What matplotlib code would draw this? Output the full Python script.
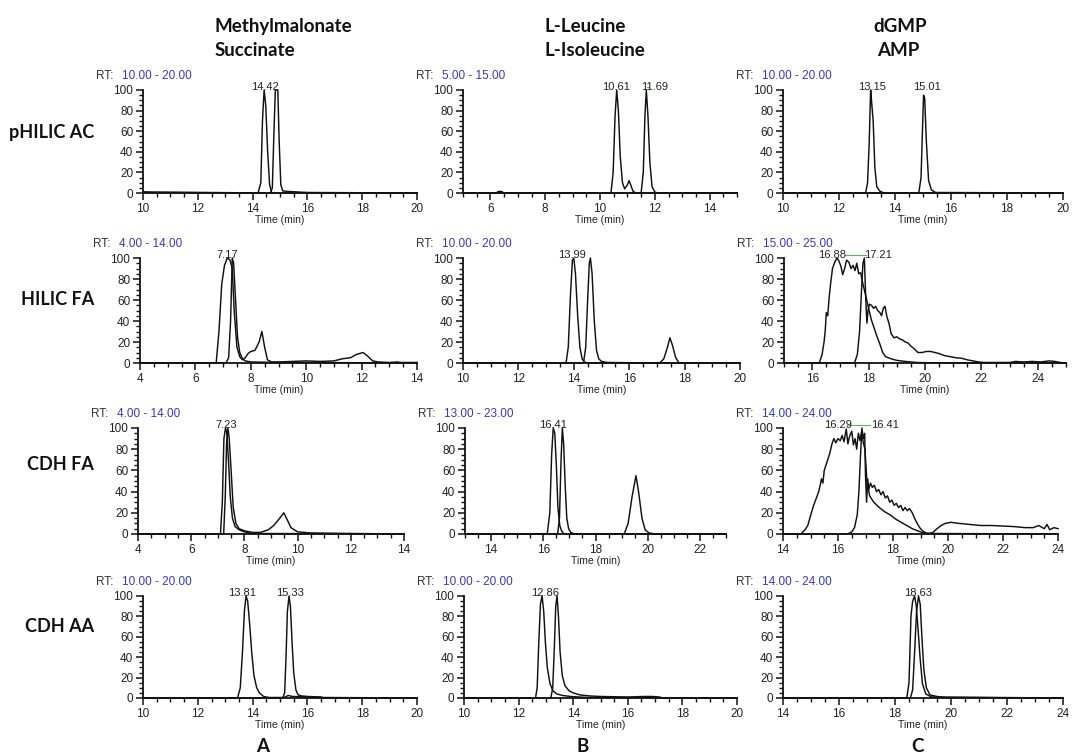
import matplotlib
matplotlib.use('Agg')
import matplotlib.pyplot as plt
from matplotlib.ticker import MultipleLocator

# ---------------- data ----------------
row_names = ["pHILIC AC", "HILIC FA", "CDH FA", "CDH AA"]
col_titles = [("Methylmalonate", "Succinate"), ("L-Leucine", "L-Isoleucine"), ("dGMP", "AMP")]
col_letters = ["A", "B", "C"]

# RT windows (min)
rt_a1 = (10, 20); rt_b1 = (5, 15);  rt_c1 = (10, 20)
rt_a2 = (4, 14);  rt_b2 = (10, 20); rt_c2 = (15, 25)
rt_a3 = (4, 14);  rt_b3 = (13, 23); rt_c3 = (14, 24)
rt_a4 = (10, 20); rt_b4 = (10, 20); rt_c4 = (14, 24)

# pHILIC AC
a1_t1 = [10, 10.3, 14.2, 14.3, 14.36, 14.42, 14.48, 14.55, 14.62, 14.7, 20]
a1_y1 = [1, 0.5, 0, 10, 70, 100, 85, 40, 8, 0, 0]
a1_t2 = [10, 14.65, 14.72, 14.78, 14.83, 14.92, 14.97, 15.03, 15.1, 15.3, 16, 20]
a1_y2 = [1, 0, 5, 60, 100, 100, 50, 8, 2, 1.5, 0.5, 0]

b1_t1 = [5, 6.2, 6.3, 6.4, 6.5, 10.4, 10.48, 10.55, 10.61, 10.67, 10.74, 10.82, 10.9, 11.0, 11.06, 11.12, 11.2, 11.3, 15]
b1_y1 = [0, 0, 1.5, 1.5, 0, 0, 20, 75, 100, 80, 35, 10, 4, 8, 12, 8, 2, 0, 0]
b1_t2 = [5, 11.5, 11.58, 11.64, 11.69, 11.75, 11.82, 11.9, 12.0, 12.1, 15]
b1_y2 = [0, 0, 20, 75, 100, 75, 30, 6, 1, 0, 0]

c1_t1 = [10, 12.95, 13.02, 13.08, 13.13, 13.16, 13.22, 13.28, 13.35, 13.45, 13.6, 20]
c1_y1 = [0, 0, 10, 50, 100, 90, 70, 25, 6, 2, 0, 0]
c1_t2 = [10, 14.85, 14.93, 14.98, 15.02, 15.06, 15.12, 15.2, 15.3, 15.45, 20]
c1_y2 = [0, 0, 15, 60, 95, 92, 50, 12, 3, 0.5, 0]

# HILIC FA
a2_t1 = [4, 6.75, 6.85, 6.95, 7.05, 7.15, 7.25, 7.33, 7.4, 7.5, 7.6, 7.7, 7.8, 7.9, 8.0, 8.15, 8.3, 8.4, 8.5,
         8.6, 8.75, 9.0, 9.5, 10, 10.5, 11, 11.3, 11.6, 11.8, 12.05, 12.2, 12.4, 12.6, 13, 13.3, 13.4, 14]
a2_y1 = [0, 0, 30, 75, 93, 100, 98, 90, 50, 15, 6, 3, 5, 9, 11, 12, 20, 30, 15,
         3, 1, 1, 1.5, 2, 1.5, 2, 4, 5, 8, 10, 7, 2, 1, 0.5, 1, 0.5, 0.5]
a2_t2 = [4, 7.1, 7.2, 7.27, 7.33, 7.38, 7.45, 7.52, 7.6, 7.7, 7.8, 8.0, 9, 10, 14]
a2_y2 = [0, 0, 5, 40, 100, 95, 60, 25, 10, 4, 2, 1, 0.5, 0.5, 0]

b2_t1 = [10, 13.72, 13.8, 13.88, 13.95, 14.0, 14.06, 14.14, 14.22, 14.3, 14.38, 14.5, 20]
b2_y1 = [0, 0, 15, 65, 98, 100, 85, 45, 15, 4, 1, 0, 0]
b2_t2 = [10, 14.35, 14.43, 14.5, 14.56, 14.6, 14.66, 14.74, 14.82, 14.9, 15.0, 15.2,
         17.1, 17.25, 17.38, 17.47, 17.56, 17.68, 17.8, 20]
b2_y2 = [0, 0, 15, 60, 95, 100, 85, 40, 12, 4, 1.5, 0.5,
         0, 4, 15, 24, 17, 5, 0, 0]

c2_t1 = [15, 16.25, 16.35, 16.42, 16.46, 16.5, 16.55, 16.6, 16.65, 16.72, 16.8, 16.88, 16.95, 17.02, 17.08,
         17.15, 17.22, 17.3, 17.38, 17.45, 17.52, 17.58, 17.65, 17.72, 17.8, 17.9, 18.0, 18.1, 18.2, 18.3,
         18.4, 18.5, 18.6, 18.8, 19.0, 19.3, 19.7, 20.5, 25]
c2_y1 = [0, 0, 8, 20, 30, 48, 45, 62, 75, 90, 96, 100, 97, 92, 84,
         90, 98, 96, 90, 93, 88, 95, 85, 86, 75, 64, 52, 41, 33, 25,
         18, 10, 6, 4, 2.5, 1.5, 0.5, 0, 0]
c2_t2 = [15, 17.5, 17.6, 17.68, 17.75, 17.8, 17.85, 17.9, 17.94, 17.98, 18.03, 18.1, 18.18, 18.25, 18.32,
         18.4, 18.46, 18.52, 18.58, 18.65, 18.72, 18.8, 18.9, 19.0, 19.1, 19.2, 19.3, 19.4, 19.5, 19.6,
         19.75, 19.9, 20.05, 20.2, 20.35, 20.5, 20.7, 20.9, 21.1, 21.3, 21.5, 21.7, 21.9, 22.1,
         23.0, 23.2, 23.5, 23.8, 24.1, 24.4, 24.6, 24.8, 25]
c2_y2 = [0, 0, 8, 30, 70, 95, 100, 60, 38, 50, 56, 55, 52, 54, 50,
         48, 45, 52, 54, 44, 38, 28, 24, 25, 23, 22, 20, 19, 16, 14,
         10, 10, 11, 11, 10, 9, 7, 6, 5, 4.5, 3, 2, 1, 0.5,
         0.5, 1.5, 1, 1.5, 1, 2, 1.5, 0.5, 0]

# CDH FA
a3_t1 = [4, 7.1, 7.17, 7.23, 7.29, 7.34, 7.4, 7.47, 7.55, 7.65, 7.8, 8.0, 8.3, 14]
a3_y1 = [0, 0, 30, 90, 100, 95, 70, 35, 15, 7, 4, 2, 0.5, 0]
a3_t2 = [4, 7.22, 7.28, 7.33, 7.38, 7.43, 7.5, 7.58, 7.68, 7.8, 8.0, 8.3, 8.6, 8.9, 9.1, 9.3, 9.48,
         9.6, 9.75, 10.0, 10.5, 12, 14]
a3_y2 = [0, 0, 35, 85, 100, 90, 60, 25, 10, 5, 3, 1.5, 1.5, 4, 8, 14, 20,
         14, 6, 2, 1, 0.5, 0]

b3_t1 = [13, 16.15, 16.25, 16.32, 16.38, 16.44, 16.5, 16.56, 16.63, 16.7, 16.8, 23]
b3_y1 = [0, 0, 20, 75, 100, 95, 65, 25, 8, 3, 0, 0]
b3_t2 = [13, 16.55, 16.62, 16.68, 16.73, 16.78, 16.84, 16.9, 16.97, 17.05, 17.2,
         19.1, 19.25, 19.4, 19.55, 19.65, 19.78, 19.9, 20.05, 20.3, 23]
b3_y2 = [0, 0, 15, 70, 100, 85, 45, 15, 5, 1.5, 0,
         0, 10, 35, 55, 40, 15, 4, 1, 0, 0]

c3_t1 = [14, 14.65, 14.8, 14.9, 15.0, 15.1, 15.2, 15.3, 15.4, 15.45, 15.5, 15.6, 15.7, 15.78, 15.85, 15.92,
         16.0, 16.08, 16.15, 16.22, 16.3, 16.36, 16.42, 16.5, 16.56, 16.62, 16.68, 16.74, 16.8, 16.86,
         16.92, 16.98, 17.05, 17.15, 17.3, 17.5, 17.7, 17.9, 18.1, 18.3, 18.5, 18.7, 18.9, 19.05, 19.2,
         19.4, 24]
c3_y1 = [0, 0, 4, 8, 17, 26, 33, 40, 52, 48, 60, 68, 76, 85, 90, 86,
         90, 88, 93, 87, 99, 85, 92, 97, 84, 90, 80, 95, 88, 97,
         86, 80, 50, 36, 30, 25, 21, 18, 14, 11, 8, 5, 3, 1.5, 0.5,
         0.5, 0]
c3_t2 = [14, 16.35, 16.5, 16.6, 16.7, 16.76, 16.82, 16.87, 16.92, 16.97, 17.0, 17.04, 17.08, 17.12, 17.18,
         17.25, 17.32, 17.4, 17.48, 17.56, 17.64, 17.72, 17.8, 17.88, 17.96, 18.04, 18.12, 18.2, 18.28,
         18.36, 18.44, 18.52, 18.6, 18.7, 18.8, 18.9, 19.0, 19.1, 19.2, 19.3, 19.45, 19.6, 19.75, 19.9,
         20.1, 20.4, 20.8, 21.2, 21.6, 22.0, 22.4, 22.8, 23.1, 23.3, 23.5, 23.6, 23.7, 23.85, 24]
c3_y2 = [0, 0, 2, 6, 18, 40, 75, 100, 90, 95, 55, 30, 52, 42, 48,
         44, 46, 40, 42, 37, 40, 34, 36, 30, 32, 27, 29, 25, 27,
         22, 25, 22, 24, 20, 14, 9, 5, 2.5, 1, 0.5, 1.5, 5, 8, 10,
         11, 10, 9, 8, 8, 7.5, 7, 6, 6, 8, 5, 9, 4, 6, 5]

# CDH AA
a4_t1 = [10, 13.45, 13.55, 13.63, 13.7, 13.76, 13.82, 13.9, 13.97, 14.05, 14.15, 14.25, 14.4, 14.6,
         15.15, 15.3, 15.45, 16.0, 16.5, 20]
a4_y1 = [0, 0, 10, 45, 85, 100, 95, 70, 44, 22, 10, 5, 1.5, 0.5,
         0.5, 2.5, 1.5, 1, 0.5, 0]
a4_t2 = [10, 15.1, 15.17, 15.22, 15.27, 15.33, 15.38, 15.44, 15.5, 15.58, 15.66, 15.8, 16.0, 16.5, 16.6, 20]
a4_y2 = [0, 0, 5, 40, 85, 100, 90, 55, 25, 8, 3, 2, 1.5, 1, 0, 0]

b4_t1 = [10, 12.62, 12.68, 12.74, 12.8, 12.86, 12.92, 12.98, 13.05, 13.15, 13.26, 13.4, 13.6, 13.9, 14.5, 20]
b4_y1 = [0, 0, 10, 55, 92, 100, 85, 55, 30, 14, 7, 4, 2.5, 1.5, 0.5, 0]
b4_t2 = [10, 13.18, 13.25, 13.31, 13.36, 13.41, 13.46, 13.52, 13.6, 13.7, 13.85, 14.0, 14.25, 14.6, 15.0,
         16.0, 16.6, 16.9, 17.15, 17.3, 20]
b4_y2 = [0, 0, 10, 50, 90, 100, 80, 45, 22, 12, 7, 5, 3, 2, 1.5,
         1, 1.5, 1.5, 1, 0, 0]

c4_t1 = [14, 18.42, 18.5, 18.57, 18.63, 18.7, 18.76, 18.83, 18.9, 18.98, 19.1, 19.3, 24]
c4_y1 = [0, 0, 15, 80, 95, 100, 90, 65, 38, 14, 4, 1, 0]
c4_t2 = [14, 18.55, 18.63, 18.7, 18.77, 18.84, 18.9, 18.96, 19.03, 19.12, 19.25, 19.5, 19.8, 24]
c4_y2 = [0, 0, 8, 45, 85, 100, 92, 60, 28, 10, 3, 1.5, 0.5, 0]

# peak annotations: (text, x position in minutes)
lab_a1 = [("14.42", 14.45)]
lab_b1 = [("10.61", 10.58), ("11.69", 12.0)]
lab_c1 = [("13.15", 13.18), ("15.01", 15.14)]
lab_a2 = [("7.17", 7.14)]
lab_b2 = [("13.99", 13.94)]
lab_c2 = [("16.88", 16.7), ("17.21", 18.33)]
lab_a3 = [("7.23", 7.3)]
lab_b3 = [("16.41", 16.37)]
lab_c3 = [("16.29", 16.0), ("16.41", 17.7)]
lab_a4 = [("13.81", 13.6), ("15.33", 15.36)]
lab_b4 = [("12.86", 12.97)]
lab_c4 = [("18.63", 18.82)]
# green connector lines (x start, x end in minutes)
green_b1 = (11.72, 11.8)
green_c2 = (17.18, 17.9)
green_c3 = (16.33, 17.16)

# ---------------- figure ----------------
W, H = 1075, 756
fig = plt.figure(figsize=(W / 100, H / 100), dpi=100)
fig.patch.set_facecolor('white')

SANS = 'Liberation Sans'
BOLD = 'Lato'
BLUE = '#3b3ba8'

rows_y = [(90, 193), (258, 363), (428, 534), (596, 698)]
cols_x = [
    [(143, 417), (463, 737), (783, 1063)],
    [(140, 417), (463, 740), (784, 1066)],
    [(138, 404), (465, 726), (783, 1058)],
    [(143, 417), (464, 737), (783, 1063)],
]

panels = [
    [(rt_a1, [(a1_t1, a1_y1), (a1_t2, a1_y2)], lab_a1, None),
     (rt_b1, [(b1_t1, b1_y1), (b1_t2, b1_y2)], lab_b1, green_b1),
     (rt_c1, [(c1_t1, c1_y1), (c1_t2, c1_y2)], lab_c1, None)],
    [(rt_a2, [(a2_t1, a2_y1), (a2_t2, a2_y2)], lab_a2, None),
     (rt_b2, [(b2_t1, b2_y1), (b2_t2, b2_y2)], lab_b2, None),
     (rt_c2, [(c2_t1, c2_y1), (c2_t2, c2_y2)], lab_c2, green_c2)],
    [(rt_a3, [(a3_t1, a3_y1), (a3_t2, a3_y2)], lab_a3, None),
     (rt_b3, [(b3_t1, b3_y1), (b3_t2, b3_y2)], lab_b3, None),
     (rt_c3, [(c3_t1, c3_y1), (c3_t2, c3_y2)], lab_c3, green_c3)],
    [(rt_a4, [(a4_t1, a4_y1), (a4_t2, a4_y2)], lab_a4, None),
     (rt_b4, [(b4_t1, b4_y1), (b4_t2, b4_y2)], lab_b4, None),
     (rt_c4, [(c4_t1, c4_y1), (c4_t2, c4_y2)], lab_c4, None)],
]

PX = 0.72  # pixels -> points at 100 dpi

for r in range(4):
    top, bot = rows_y[r]
    for c in range(3):
        left, right = cols_x[r][c]
        rt, traces, labels, green = panels[r][c]
        ax = fig.add_axes([left / W, 1 - bot / H, (right - left) / W, (bot - top) / H])
        for t, y in traces:
            ax.plot(t, y, color='#111111', lw=1.05, clip_on=False, solid_joinstyle='round')
        ax.set_xlim(*rt)
        ax.set_ylim(0, 100)
        for s in ('top', 'right'):
            ax.spines[s].set_visible(False)
        for s in ('left', 'bottom'):
            ax.spines[s].set_linewidth(1.3)
            ax.spines[s].set_color('#111111')
        ax.xaxis.set_major_locator(MultipleLocator(2))
        ax.xaxis.set_minor_locator(MultipleLocator(0.5))
        ax.yaxis.set_major_locator(MultipleLocator(20))
        ax.yaxis.set_minor_locator(MultipleLocator(5))
        ax.tick_params(which='major', direction='out', length=5, width=1.1, color='#111111',
                       labelsize=8.5, pad=2, labelcolor='#222222')
        ax.tick_params(which='minor', direction='out', length=3, width=1.0, color='#111111')
        for lab in ax.get_xticklabels() + ax.get_yticklabels():
            lab.set_fontfamily(SANS)
        ax.set_xlabel('Time (min)', fontsize=7.5, family=SANS, labelpad=0, color='#222222')
        ax.patch.set_alpha(0)
        # RT header
        ax.annotate('RT:', xy=(0, 1), xycoords='axes fraction', xytext=(-47 * PX, 14 * PX),
                    textcoords='offset points', ha='left', va='center', fontsize=8.5,
                    family=SANS, color='#333333', annotation_clip=False)
        ax.annotate('%.2f - %.2f' % rt, xy=(0, 1), xycoords='axes fraction',
                    xytext=(-21 * PX, 14 * PX), textcoords='offset points', ha='left',
                    va='center', fontsize=8.5, family=SANS, color=BLUE, annotation_clip=False)
        # peak labels
        for txt, xp in labels:
            ax.text(xp, 103, txt, ha='center', va='center', fontsize=8, family=SANS,
                    color='#222222', clip_on=False)
        if green is not None:
            ax.plot([green[0], green[1]], [103, 103], color='#5fb85f', lw=0.8, clip_on=False)

# row labels
row_base = [138, 305, 470, 632]
for name, yb in zip(row_names, row_base):
    fig.text(94 / W, 1 - yb / H, name, ha='right', va='baseline', fontsize=13,
             family=BOLD, fontweight='bold', color='#111111')

# column titles
title_x = [(215, 215), (545, 545), (873, 877)]
for (l1, l2), (x1, x2) in zip(col_titles, title_x):
    fig.text(x1 / W, 1 - 32 / H, l1, ha='left', va='baseline', fontsize=13.5,
             family=BOLD, fontweight='bold', color='#111111')
    fig.text(x2 / W, 1 - 56 / H, l2, ha='left', va='baseline', fontsize=13.5,
             family=BOLD, fontweight='bold', color='#111111')

# column letters
for letter, xc in zip(col_letters, [263, 583, 917]):
    fig.text(xc / W, 1 - 752 / H, letter, ha='center', va='baseline', fontsize=13.5,
             family=BOLD, fontweight='bold', color='#111111')

fig.savefig('out.png', dpi=100, facecolor='white')
